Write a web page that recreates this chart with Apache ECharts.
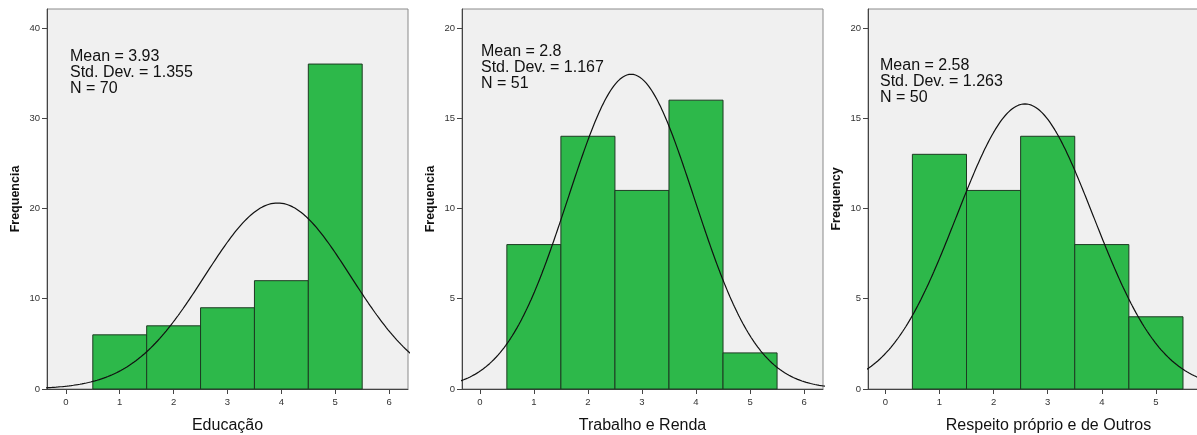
<!DOCTYPE html>
<html>
<head>
<meta charset="utf-8">
<script src="https://cdn.jsdelivr.net/npm/echarts@6/dist/echarts.min.js"></script>
<style>html,body{margin:0;padding:0;background:#fff}#c{width:1197px;height:435px}</style>
</head>
<body>
<div id="c"></div>
<script>
// ---- data ----
const binCenters = [1, 2, 3, 4, 5];
const educacaoCounts = [6, 7, 9, 12, 36];
const trabalhoCounts = [8, 14, 11, 16, 2];
const respeitoCounts = [13, 11, 14, 8, 4];
const variableNames = ['Educação', 'Trabalho e Renda', 'Respeito próprio e de Outros'];
const yAxisNames = ['Frequencia', 'Frequencia', 'Frequency'];
const means = [3.93, 2.8, 2.58];
const stdDevs = [1.355, 1.167, 1.263];
const ns = [70, 51, 50];
const xTickLabels = [0, 1, 2, 3, 4, 5, 6];
const yTicksEdu = [0, 10, 20, 30, 40];
const yTicksOther = [0, 5, 10, 15, 20];

// ---- layout ----
const grids = [
  {left: 47, top: 9, width: 361, height: 380},
  {left: 462, top: 9, width: 361, height: 380},
  {left: 868, top: 9, width: 361, height: 380}
];
const xRanges = [[-0.35, 6.35], [-0.33, 6.35], [-0.32, 6.35]];
const yMax = [42.1, 21.05, 21.05];
const countsAll = [educacaoCounts, trabalhoCounts, respeitoCounts];
const yTicksAll = [yTicksEdu, yTicksOther, yTicksOther];
const statPos = [[70, 49], [481, 44], [880, 58]];

function normalCurve(m, sd, n) {
  const pts = [];
  for (let i = 0; i <= 700; i++) {
    const x = -0.5 + i * 0.01;
    const y = n / (sd * Math.sqrt(2 * Math.PI)) * Math.exp(-((x - m) * (x - m)) / (2 * sd * sd));
    pts.push([x, y]);
  }
  return pts;
}

const option = {
  animation: false,
  backgroundColor: '#ffffff',
  grid: grids.map(g => Object.assign({show: true, backgroundColor: '#f0f0f0', borderColor: '#8a8a8a', borderWidth: 1, containLabel: false, outerBoundsMode: 'none'}, g)),
  xAxis: grids.map((g, i) => ({
    type: 'value', gridIndex: i, min: xRanges[i][0], max: xRanges[i][1],
    name: variableNames[i], nameLocation: 'middle', nameGap: 29,
    nameTextStyle: {fontFamily: 'Liberation Sans, Arial', fontSize: 16, color: '#111'},
    splitLine: {show: false},
    axisLine: {show: true, onZero: false, lineStyle: {color: '#444', width: 1}},
    axisTick: {show: true, length: 5, lineStyle: {color: '#444'}, customValues: xTickLabels},
    axisLabel: {fontFamily: 'Liberation Sans, Arial', fontSize: 9.5, color: '#333', margin: 8, customValues: xTickLabels}
  })),
  yAxis: grids.map((g, i) => ({
    type: 'value', gridIndex: i, min: 0, max: yMax[i],
    name: yAxisNames[i], nameLocation: 'middle', nameGap: 25, nameRotate: 90,
    nameTextStyle: {fontFamily: 'Liberation Sans, Arial', fontSize: 12.5, fontWeight: 'bold', color: '#111'},
    splitLine: {show: false},
    axisLine: {show: true, onZero: false, lineStyle: {color: '#444', width: 1}},
    axisTick: {show: true, length: 5, lineStyle: {color: '#444'}, customValues: yTicksAll[i]},
    axisLabel: {fontFamily: 'Liberation Sans, Arial', fontSize: 9.5, color: '#333', margin: 7, customValues: yTicksAll[i]}
  })),
  series: [],
  graphic: []
};

countsAll.forEach((counts, i) => {
  option.series.push({
    type: 'custom', xAxisIndex: i, yAxisIndex: i,
    data: binCenters.map((c, k) => [c, counts[k]]),
    renderItem: function (params, api) {
      const x = api.value(0), y = api.value(1);
      const p1 = api.coord([x - 0.5, y]);
      const p2 = api.coord([x + 0.5, 0]);
      return {
        type: 'rect',
        shape: {x: p1[0], y: p1[1], width: p2[0] - p1[0], height: p2[1] - p1[1]},
        style: {fill: '#2db84a', stroke: '#1d3a22', lineWidth: 1}
      };
    },
    z: 2
  });
  option.series.push({
    type: 'line', xAxisIndex: i, yAxisIndex: i,
    data: normalCurve(means[i], stdDevs[i], ns[i]),
    showSymbol: false, symbol: 'none', clip: true,
    lineStyle: {color: '#111', width: 1.2},
    z: 3
  });
  option.graphic.push({
    type: 'text', left: statPos[i][0], top: statPos[i][1], z: 10,
    style: {
      text: 'Mean = ' + means[i] + '\nStd. Dev. = ' + stdDevs[i] + '\nN = ' + ns[i],
      fontFamily: 'Liberation Sans, Arial', fontSize: 16, lineHeight: 16, fill: '#111'
    }
  });
});

const chart = echarts.init(document.getElementById('c'), null, {renderer: 'canvas'});
chart.setOption(option);
</script>
</body>
</html>
